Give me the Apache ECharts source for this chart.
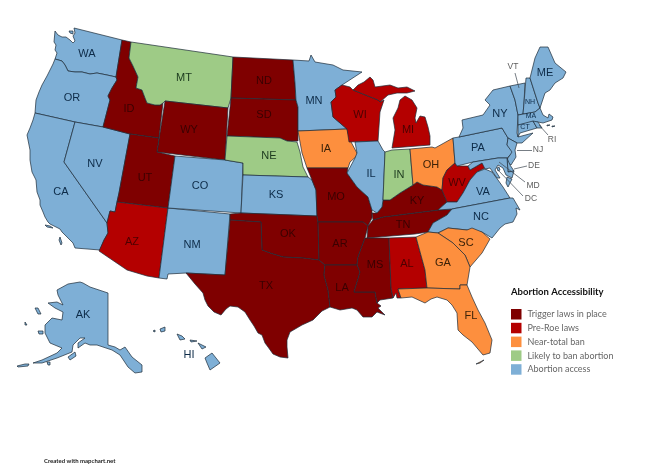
<!DOCTYPE html>
<html><head><meta charset="utf-8">
<style>html,body{margin:0;padding:0;background:#fff}#c{width:660px;height:470px}</style>
<script src="https://cdn.jsdelivr.net/npm/echarts@6/dist/echarts.min.js"></script>
</head><body><div id="c"></div>
<script>
// Status categories and the states in each
const categoryNames = ['Trigger laws in place','Pre-Roe laws','Near-total ban','Likely to ban abortion','Abortion access'];
const categoryColors = ['#7f0000','#b40000','#fd8f3e','#9ecb86','#7eafd6'];
const labelInkColors = ['#3a0000','#4c0000','#3c2208','#1c3a1e','#0d2b48'];
const triggerStates = ['ID','WY','UT','ND','SD','TX','OK','MO','AR','LA','MS','TN','KY'];
const preRoeStates = ['AZ','WI','MI','AL','WV'];
const nearBanStates = ['IA','OH','GA','SC','FL'];
const likelyBanStates = ['MT','NE','IN'];
const accessStates = ['WA','OR','CA','NV','CO','NM','KS','MN','IL','NY','PA','VA','NC','ME','VT','NH','MA','CT','RI','NJ','DE','MD','DC','AK','HI'];
const statesByCategory = [triggerStates,preRoeStates,nearBanStates,likelyBanStates,accessStates];

// State outlines (the map's base geometry)
const stateOutlines = {
WA:[[[55,31],[58,35],[62,37],[66,37],[70,40],[73,43],[75,41],[73,36],[75,33],[74,28],[122,40],[116,77],[107,75],[97,73],[90,74],[82,72],[75,72],[68,71],[65,65],[62,61],[55,59],[57,53],[55,50],[56,45],[54,42]],[[69,31],[73,31],[73,34],[70,33]]],
OR:[[[55,59],[62,61],[65,65],[68,71],[75,72],[82,72],[90,74],[97,73],[107,75],[116,77],[117,80],[112,88],[108,96],[110,100],[103,127],[75,122],[35,113],[36,100],[39,92],[42,85],[47,76],[50,70],[53,64]]],
CA:[[[35,113],[75,122],[64,162],[107,223],[108,233],[104,240],[100,250],[75,248],[73,243],[70,240],[62,232],[60,229],[50,224],[48,222],[45,217],[43,212],[40,205],[40,200],[37,192],[36,180],[32,172],[30,160],[30,150],[27,135],[30,128],[33,120]],[[45,225],[50,226],[53,228],[47,227]],[[60,237],[62,243],[61,245],[59,240]]],
NV:[[[75,122],[103,127],[130,134],[119,193],[117,202],[115,212],[110,211],[107,223],[64,162]]],
ID:[[[122,40],[131,42],[129,58],[133,66],[138,77],[136,88],[142,90],[145,98],[147,103],[155,105],[160,105],[163,103],[159,138],[130,134],[103,127],[110,100],[108,96],[112,88],[117,80],[116,77]]],
MT:[[[131,42],[233,57],[231,98],[228,108],[165,101],[163,103],[160,105],[155,105],[147,103],[145,98],[142,90],[136,88],[138,77],[133,66],[129,58]]],
WY:[[[165,101],[228,108],[225,160],[157,152]]],
UT:[[[130,134],[159,138],[157,152],[175,156],[168,208],[117,202],[119,193]]],
AZ:[[[117,202],[168,208],[159,278],[147,276],[127,270],[99,251],[104,240],[108,233],[107,223],[110,211],[115,212]]],
NM:[[[168,208],[230,214],[225,275],[186,273],[168,274],[167,279],[159,278]]],
CO:[[[175,156],[225,160],[243,163],[241,213],[168,208]]],
ND:[[[233,57],[293,60],[295,83],[296,100],[231,98]]],
SD:[[[231,98],[296,100],[298,107],[298,141],[297,142],[287,141],[280,138],[227,136]]],
NE:[[[227,136],[280,138],[287,141],[297,142],[300,152],[303,167],[308,177],[243,175],[243,163],[225,160]]],
KS:[[[243,175],[308,177],[312,180],[316,190],[317,216],[241,213]]],
OK:[[[230,214],[241,213],[317,216],[318,222],[319,260],[303,258],[283,257],[270,253],[262,250],[261,222],[230,220]]],
TX:[[[230,220],[261,222],[262,250],[270,253],[283,257],[303,258],[319,260],[325,265],[324,275],[328,290],[330,307],[322,311],[313,320],[302,325],[290,332],[287,340],[287,347],[288,358],[280,357],[273,354],[268,347],[265,343],[262,335],[258,333],[254,326],[250,320],[245,312],[238,307],[230,306],[226,309],[221,315],[214,312],[208,306],[205,300],[203,293],[195,284],[186,273],[225,275]]],
MN:[[[293,60],[309,61],[311,55],[315,62],[333,65],[343,70],[362,72],[342,85],[335,90],[336,97],[331,102],[333,117],[347,129],[298,131],[298,107],[296,100],[295,83]]],
IA:[[[298,131],[347,129],[350,140],[358,155],[350,162],[348,168],[307,168],[302,153]]],
MO:[[[307,168],[348,168],[347,173],[357,187],[368,197],[372,210],[372,218],[368,226],[363,222],[318,222],[317,216],[316,190],[312,180]]],
AR:[[[318,222],[363,222],[368,226],[365,238],[358,257],[357,265],[325,265],[319,260]]],
LA:[[[325,265],[357,265],[360,272],[354,292],[375,292],[377,303],[381,306],[378,308],[385,315],[377,312],[372,317],[363,317],[357,310],[352,308],[340,310],[330,307],[328,290],[324,275]]],
MS:[[[368,238],[389,238],[391,288],[393,298],[380,300],[377,303],[375,292],[354,292],[360,272],[357,265],[358,257],[365,238]]],
AL:[[[389,238],[416,237],[425,270],[427,288],[398,289],[401,298],[397,298],[396,293],[393,298],[391,288]]],
TN:[[[373,220],[383,217],[438,210],[452,209],[447,215],[433,223],[428,232],[415,234],[367,238],[368,226]]],
KY:[[[373,220],[372,213],[377,213],[382,207],[383,200],[390,200],[400,193],[413,185],[417,182],[423,185],[437,187],[442,190],[447,202],[438,210],[383,217]]],
WI:[[[335,90],[342,85],[350,87],[353,90],[378,100],[380,102],[384,100],[380,112],[378,141],[349,142],[347,129],[333,117],[331,102],[336,97]]],
MI:[[[353,90],[358,85],[364,82],[370,77],[373,80],[375,87],[390,85],[398,88],[407,87],[415,91],[407,93],[397,93],[388,95],[380,102],[378,100]],[[392,148],[430,145],[430,136],[428,127],[425,117],[420,116],[416,123],[415,118],[417,108],[412,100],[405,96],[400,100],[398,108],[393,118],[395,130]]],
IL:[[[355,142],[378,141],[383,150],[385,152],[383,200],[382,207],[377,213],[372,210],[368,197],[357,187],[347,173],[355,158],[357,153]]],
IN:[[[385,152],[392,150],[410,149],[413,185],[400,193],[390,200],[383,200]]],
OH:[[[410,149],[432,147],[435,148],[453,138],[455,163],[447,170],[443,178],[442,190],[437,187],[423,185],[417,182],[413,185]]],
WV:[[[442,190],[443,178],[447,170],[455,163],[457,166],[468,166],[470,170],[482,163],[487,167],[477,172],[470,180],[463,193],[457,202],[447,202]]],
VA:[[[438,210],[447,202],[457,202],[463,193],[470,180],[477,172],[485,169],[492,172],[498,180],[503,187],[510,198],[452,209]],[[507,177],[512,179],[508,187],[506,183]]],
NC:[[[452,209],[510,198],[513,198],[520,210],[516,208],[517,214],[513,222],[505,224],[500,228],[492,238],[482,232],[467,230],[448,228],[438,233],[428,232],[433,223],[447,215]]],
SC:[[[438,233],[448,228],[467,230],[472,228],[482,232],[490,239],[482,253],[470,267],[465,255],[453,243]]],
GA:[[[416,237],[428,232],[438,233],[453,243],[465,255],[470,267],[467,285],[460,285],[460,289],[427,288],[425,270]]],
FL:[[[398,289],[427,288],[460,289],[460,285],[467,285],[472,297],[478,310],[485,323],[492,340],[490,353],[483,355],[472,342],[463,335],[458,330],[457,313],[452,305],[447,300],[437,297],[431,299],[425,303],[412,297],[401,298]],[[476,364],[482,361],[484,360],[480,363]]],
PA:[[[453,138],[459,137],[502,128],[508,138],[507,145],[513,152],[507,158],[498,158],[473,162],[457,166],[455,163]]],
NY:[[[459,137],[463,128],[462,120],[483,115],[490,105],[485,100],[493,90],[510,86],[515,100],[518,115],[517,133],[518,137],[533,133],[522,143],[517,143],[508,138],[502,128]]],
NJ:[[[508,138],[517,143],[515,150],[516,157],[511,165],[506,161],[512,152],[507,145]]],
DE:[[[507,158],[510,165],[514,171],[508,172]]],
MD:[[[473,162],[498,158],[507,158],[508,172],[514,171],[512,178],[506,175],[503,168],[498,165],[495,170],[500,178],[497,178],[490,168],[485,169],[482,163],[470,170],[468,166]]],
DC:[[[497,168],[499,167],[500,170],[498,171]]],
VT:[[[510,86],[525,83],[524,103],[523,114],[518,115],[515,100]]],
NH:[[[526,78],[530,78],[538,103],[540,108],[535,112],[523,114],[524,103]]],
ME:[[[530,78],[535,58],[540,47],[548,47],[555,63],[566,72],[563,78],[555,83],[550,90],[545,93],[540,108],[538,103]]],
MA:[[[518,115],[535,112],[540,108],[543,115],[548,118],[549,114],[553,117],[552,120],[543,123],[538,122],[518,125]],[[547,125],[550,125],[550,126],[547,126]],[[552,126],[555,126],[555,127],[552,127]]],
CT:[[[518,125],[533,121],[537,128],[520,133],[518,137]]],
RI:[[[533,121],[538,122],[542,128],[537,128]]],
AK:[[[57,290],[68,284],[80,282],[83,283],[90,287],[108,293],[108,345],[115,347],[120,350],[125,347],[132,357],[142,365],[142,372],[135,373],[128,367],[120,355],[112,350],[97,345],[90,345],[85,343],[78,348],[78,343],[85,338],[80,338],[73,345],[72,352],[57,358],[42,363],[33,363],[42,360],[57,353],[62,348],[50,343],[45,333],[45,325],[52,318],[62,320],[63,312],[55,308],[48,303],[57,302],[63,305],[58,295]],[[38,331],[43,331],[43,334],[39,334]],[[35,308],[38,308],[41,314],[38,314]],[[68,357],[75,352],[76,356],[70,360]],[[17,366],[25,364],[29,364],[28,366],[18,367]],[[25,322],[26,322],[27,325],[25,325]],[[47,362],[50,362],[50,365],[48,365]]],
HI:[[[205,358],[212,353],[220,363],[210,370],[207,363]],[[198,343],[206,347],[202,349]],[[190,340],[197,341],[196,342],[191,342]],[[177,334],[182,336],[185,339],[180,340]],[[160,329],[165,327],[165,331],[161,332]],[[153,331],[155,330],[155,332]]]
};
// Where each state's label sits
const labelAnchors = {WA:[87,54],OR:[72,98],CA:[61,192],NV:[95,164],ID:[129,109],MT:[184,78],WY:[189,130],UT:[145,178],AZ:[132,242],CO:[200,186],NM:[192,245],ND:[264,81],SD:[264,115],NE:[269,156],KS:[276,195],OK:[288,234],TX:[266,286],MN:[314,101],IA:[326,149],MO:[336,197],AR:[340,244],LA:[342,288],WI:[360,115],IL:[371,174],MS:[375,265],AL:[407,264],MI:[408,130],IN:[399,175],OH:[431,165],KY:[417,201],TN:[403,225],GA:[443,263],FL:[471,316],SC:[466,243],NC:[481,217],VA:[483,192],WV:[457,183],PA:[478,148],NY:[500,114],ME:[545,73],AK:[83,315],HI:[189,355],NH:[530,102],MA:[531,116],CT:[525,127]};
const tinyInsideLabels = ['NH','MA','CT'];
// Outside labels with their leader lines: name, label point, line start, line end
const leaderLabels = [
 {name:'VT',at:[513,67],from:[515,73],to:[519,88]},
 {name:'RI',at:[552,140],from:[539,125],to:[548,135]},
 {name:'NJ',at:[538,150],from:[517,150],to:[532,150]},
 {name:'DE',at:[534,166],from:[514,169],to:[527,166]},
 {name:'MD',at:[533,186],from:[499,162],to:[525,182]},
 {name:'DC',at:[531,199],from:[498,170],to:[523,196]}
];

const features = Object.keys(stateOutlines).map(code => ({
  type:'Feature',
  properties:{name:code, cp:labelAnchors[code] || stateOutlines[code][0][0]},
  geometry:{type:'MultiPolygon', coordinates:stateOutlines[code].map(r=>[r])}
}));
echarts.registerMap('usa',{type:'FeatureCollection',features});

const identity = {project:p=>[p[0],p[1]],unproject:p=>[p[0],p[1]]};
const frame = {left:0,top:0,width:660,height:470,projection:identity,boundingCoords:[[0,0],[660,470]],roam:false,silent:true};

const mapData = [];
statesByCategory.forEach((list,ci)=>list.forEach(code=>{
  const hasInside = !!labelAnchors[code];
  const tiny = tinyInsideLabels.includes(code);
  mapData.push({name:code,value:ci,label:{show:hasInside,color:labelInkColors[ci],fontSize:tiny?7:11}});
}));

const chart = echarts.init(document.getElementById('c'),null,{renderer:'canvas'});
chart.setOption({
  animation:false,
  backgroundColor:'#fff',
  title:[
    {text:'Abortion Accessibility',left:511,top:287,textStyle:{fontFamily:'Lato',fontSize:9.5,fontWeight:'bold',color:'#111'},padding:0},
    {text:'Created with mapchart.net',left:44,top:458,textStyle:{fontFamily:'Lato',fontSize:6,fontWeight:'bold',color:'#222'},padding:0}
  ],
  visualMap:{
    type:'piecewise',seriesIndex:0,left:511,top:309,orient:'vertical',align:'left',inverse:true,
    itemWidth:10.5,itemHeight:10.5,itemGap:3.3,textGap:6,padding:0,itemSymbol:'rect',selectedMode:false,
    textStyle:{fontFamily:'Lato',fontSize:9,color:'#666'},
    pieces:categoryNames.map((n,i)=>({value:i,label:n,color:categoryColors[i]}))
  },
  geo:Object.assign({map:'usa',z:1,itemStyle:{areaColor:'transparent',borderWidth:0},label:{show:false}},frame),
  series:[
    Object.assign({type:'map',map:'usa',name:'Abortion Accessibility',z:2,data:mapData,
      itemStyle:{borderColor:'#1d2b38',borderWidth:0.7},
      label:{show:true,fontFamily:'Liberation Sans',fontSize:11}},frame),
    {type:'lines',coordinateSystem:'geo',z:3,silent:true,
      lineStyle:{color:'#3c4650',width:0.7,opacity:1,curveness:0},
      data:leaderLabels.map(d=>({coords:[d.from,d.to]}))},
    {type:'scatter',coordinateSystem:'geo',z:4,silent:true,symbolSize:0,
      data:leaderLabels.map(d=>({name:d.name,value:d.at})),
      label:{show:true,position:'inside',formatter:'{b}',fontFamily:'Liberation Sans',fontSize:8.5,color:'#333'}}
  ]
});
</script></body></html>
